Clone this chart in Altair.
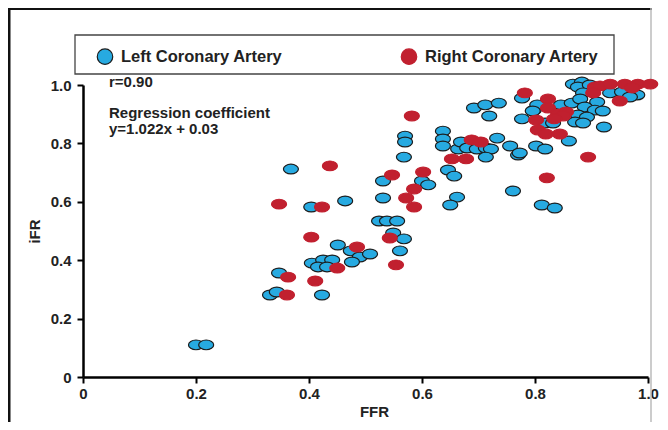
import altair as alt
import pandas as pd

series_names = ["Left Coronary Artery", "Right Coronary Artery"]
colors_fill = ["#27aae1", "#c1202f"]
colors_stroke = ["#1c1c1c", "#c1202f"]

blue_ffr = [0.200, 0.218, 0.331, 0.343, 0.347, 0.368, 0.404, 0.423, 0.405, 0.425,
            0.441, 0.416, 0.432, 0.451, 0.474, 0.490, 0.508, 0.476, 0.464, 0.531,
            0.531, 0.524, 0.538, 0.556, 0.549, 0.568, 0.561, 0.568, 0.570, 0.570,
            0.637, 0.637, 0.637, 0.664, 0.669, 0.680, 0.697, 0.713, 0.722, 0.733,
            0.756, 0.770, 0.713, 0.646, 0.657, 0.600, 0.611, 0.662, 0.650, 0.761,
            0.812, 0.835, 0.692, 0.712, 0.736, 0.719, 0.777, 0.777, 0.798, 0.804,
            0.802, 0.818, 0.860, 0.846, 0.865, 0.867, 0.883, 0.876, 0.897, 0.885,
            0.933, 0.954, 0.981, 0.968, 0.910, 0.880, 0.888, 0.906, 0.920, 0.876,
            0.892, 0.871, 0.885, 0.922, 0.818, 0.832, 0.796, 0.773]
blue_ifr = [0.110, 0.110, 0.281, 0.291, 0.356, 0.712, 0.582, 0.281, 0.390, 0.401,
            0.401, 0.377, 0.377, 0.452, 0.432, 0.411, 0.421, 0.394, 0.603, 0.671,
            0.613, 0.534, 0.534, 0.534, 0.493, 0.473, 0.432, 0.753, 0.825, 0.805,
            0.842, 0.815, 0.791, 0.781, 0.805, 0.784, 0.781, 0.784, 0.781, 0.818,
            0.791, 0.760, 0.753, 0.709, 0.688, 0.671, 0.658, 0.616, 0.589, 0.637,
            0.589, 0.579, 0.921, 0.932, 0.938, 0.894, 0.955, 0.884, 0.914, 0.932,
            0.791, 0.781, 0.808, 0.932, 0.938, 1.003, 1.010, 0.993, 1.000, 0.973,
            0.973, 0.976, 0.966, 0.959, 0.942, 0.952, 0.925, 0.914, 0.911, 0.897,
            0.890, 0.873, 0.870, 0.856, 0.870, 0.870, 0.911, 0.767]

red_ffr = [0.347, 0.423, 0.437, 0.404, 0.485, 0.450, 0.363, 0.411, 0.361, 0.543,
           0.554, 0.547, 0.572, 0.586, 0.586, 0.602, 0.582, 0.653, 0.678, 0.688,
           0.704, 0.782, 0.823, 0.823, 0.841, 0.855, 0.850, 0.834, 0.802, 0.805,
           0.819, 0.844, 0.894, 0.821, 0.950, 0.906, 0.915, 0.933, 0.959, 0.982,
           1.004, 0.903, 0.972]
red_ifr = [0.592, 0.582, 0.723, 0.479, 0.445, 0.373, 0.342, 0.329, 0.281, 0.476,
           0.384, 0.692, 0.613, 0.644, 0.582, 0.702, 0.894, 0.747, 0.747, 0.812,
           0.805, 0.973, 0.952, 0.921, 0.901, 0.908, 0.894, 0.884, 0.880, 0.846,
           0.832, 0.832, 0.753, 0.682, 0.945, 0.993, 0.997, 1.003, 1.003, 1.003,
           1.003, 0.973, 0.990]

tick_values = [0, 0.2, 0.4, 0.6, 0.8, 1.0]
annotations = ["r=0.90", "Regression coefficient", "y=1.022x + 0.03"]

rows = []
for x, y in zip(blue_ffr, blue_ifr):
    rows.append({"FFR": x, "iFR": y, "artery": series_names[0]})
for x, y in zip(red_ffr, red_ifr):
    rows.append({"FFR": x, "iFR": y, "artery": series_names[1]})
df = pd.DataFrame(rows)

FONT = "Liberation Sans"
ELLIPSE = "M-1,0 A1,0.65 0 1,1 1,0 A1,0.65 0 1,1 -1,0 Z"

legend = alt.Legend(
    title=None, orient="none", legendX=13.5, legendY=-37, direction="horizontal",
    columns=2, columnPadding=116, padding=0, symbolType="circle", symbolSize=240,
    symbolStrokeWidth=1.2, labelFont=FONT, labelFontSize=16.5, labelFontWeight="bold",
    labelColor="#222222", labelOffset=7.5, labelLimit=300,
)

label_expr = "datum.value == 0 ? '0' : format(datum.value, '.1f')"

points = alt.Chart(df).mark_point(
    shape=ELLIPSE, filled=True, size=225, strokeWidth=1.2, opacity=1
).encode(
    x=alt.X("FFR:Q", scale=alt.Scale(domain=[0, 1], nice=False),
            axis=alt.Axis(values=tick_values, labelExpr=label_expr, title="FFR",
                          labelPadding=3, titlePadding=3, labelFlush=False,
                          titleX=291)),
    y=alt.Y("iFR:Q", scale=alt.Scale(domain=[0, 1], nice=False),
            axis=alt.Axis(values=tick_values, labelExpr=label_expr, title="iFR",
                          labelPadding=6, titlePadding=8, labelFlush=False)),
    fill=alt.Fill("artery:N", scale=alt.Scale(domain=series_names, range=colors_fill), legend=legend),
    stroke=alt.Stroke("artery:N", scale=alt.Scale(domain=series_names, range=colors_stroke), legend=legend),
)

one = pd.DataFrame({"a": [0]})

legend_box = alt.Chart(one).mark_rect(
    fill="white", fillOpacity=0, stroke="#444444", strokeWidth=1.3
).encode(x=alt.value(-8), x2=alt.value(531), y=alt.value(-50), y2=alt.value(-11))

frame_top = alt.Chart(one).mark_rule(color="#111111", strokeWidth=3).encode(
    x=alt.value(-75), x2=alt.value(569), y=alt.value(-76.5))
frame_left = alt.Chart(one).mark_rule(color="#111111", strokeWidth=3).encode(
    x=alt.value(-74), y=alt.value(-78), y2=alt.value(400))
frame_right = alt.Chart(one).mark_rule(color="#bbbbbb", strokeWidth=1.5).encode(
    x=alt.value(568), y=alt.value(-78), y2=alt.value(400))

text_style = dict(font=FONT, fontSize=15, fontWeight="bold", color="#222222", align="left",
                  baseline="alphabetic")
t1 = alt.Chart(one).mark_text(text=annotations[0], **text_style).encode(
    x=alt.value(26), y=alt.value(2))
t2 = alt.Chart(one).mark_text(text=annotations[1], **text_style).encode(
    x=alt.value(26), y=alt.value(33))
t3 = alt.Chart(one).mark_text(text=annotations[2], **text_style).encode(
    x=alt.value(26), y=alt.value(48.5))

chart = alt.layer(
    frame_top, frame_left, frame_right, legend_box, points, t1, t2, t3
).properties(
    width=565, height=292,
    autosize=alt.AutoSizeParams(type="none"),
    padding={"left": 75, "top": 77, "right": 12, "bottom": 45},
).configure_view(stroke=None).configure_axis(
    grid=False, domainColor="#000000", domainWidth=2.5, tickColor="#000000",
    tickWidth=2, tickSize=6, labelFont=FONT, labelFontSize=15, labelFontWeight="bold",
    labelColor="#222222", titleFont=FONT, titleFontSize=15, titleFontWeight="bold",
    titleColor="#222222",
)

chart.save("out.html", embed_options={"renderer": "svg", "actions": False})
